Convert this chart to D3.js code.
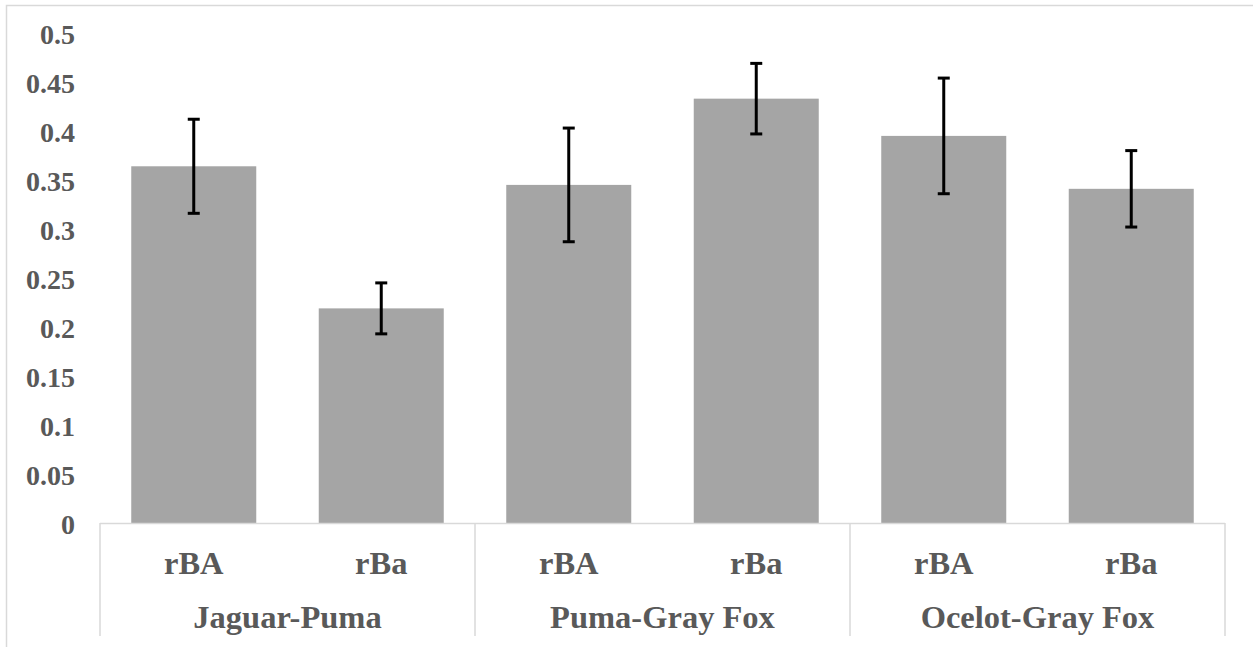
<!DOCTYPE html>
<html>
<head>
<meta charset="utf-8">
<script src="https://cdn.jsdelivr.net/npm/d3@7/dist/d3.min.js"></script>
<style>
  html, body { margin: 0; padding: 0; background: #ffffff; }
  svg { display: block; }
</style>
</head>
<body>
<svg id="chart" width="1253" height="647"></svg>
<script>
// Pairwise association values per species pair, with error half-widths
const groups = ["Jaguar-Puma", "Puma-Gray Fox", "Ocelot-Gray Fox"];
const measures = ["rBA", "rBa"];
const values = [0.364, 0.219, 0.345, 0.433, 0.395, 0.341];
const errors = [0.048, 0.026, 0.058, 0.036, 0.059, 0.039];
const yTicks = [0, 0.05, 0.1, 0.15, 0.2, 0.25, 0.3, 0.35, 0.4, 0.45, 0.5];

const FONT = "'Liberation Serif', 'Times New Roman', Times, serif";
const TEXT_COLOR = "#595959";

const rows = values.map((v, i) => ({
  group: groups[Math.floor(i / measures.length)],
  measure: measures[i % measures.length],
  value: v,
  err: errors[i],
  idx: i
}));

const svg = d3.select("#chart");
const W = 1253, H = 647;
const plot = { left: 100, right: 1225, top: 33, bottom: 523 };

// Outer chart frame (top and left edges visible)
svg.append("path")
  .attr("d", `M6.5,${H} V5.5 H${W}`)
  .attr("fill", "none")
  .attr("stroke", "#d9d9d9")
  .attr("stroke-width", 1.5);

const y = d3.scaleLinear().domain([0, 0.5]).range([plot.bottom, plot.top]);

const x = d3.scaleBand()
  .domain(rows.map(d => d.idx))
  .range([plot.left, plot.right])
  .paddingInner(1 / 3)
  .paddingOuter(1 / 6);

const xGroup = d3.scaleBand()
  .domain(groups)
  .range([plot.left, plot.right])
  .padding(0);

// Y axis: labels only, no line or ticks
const yAxis = d3.axisLeft(y)
  .tickValues(yTicks)
  .tickFormat(d => String(+d.toFixed(2)))
  .tickSize(0)
  .tickPadding(0);

const yG = svg.append("g")
  .attr("transform", "translate(75,0)")
  .call(yAxis);
yG.select(".domain").remove();
yG.attr("font-family", FONT)
  .attr("font-size", 28)
  .attr("font-weight", "bold");
yG.selectAll(".tick text")
  .attr("fill", TEXT_COLOR)
  .attr("font-family", FONT)
  .attr("font-size", 28)
  .attr("font-weight", "bold")
  .attr("dy", "0.38em");

// Bars
svg.append("g")
  .selectAll("rect")
  .data(rows)
  .join("rect")
  .attr("x", d => x(d.idx))
  .attr("width", x.bandwidth())
  .attr("y", d => y(d.value))
  .attr("height", d => y(0) - y(d.value))
  .attr("fill", "#a5a5a5");

// Error bars
const eb = svg.append("g")
  .attr("stroke", "#000000")
  .attr("stroke-width", 3)
  .selectAll("g")
  .data(rows)
  .join("g");

eb.append("line")
  .attr("x1", d => x(d.idx) + x.bandwidth() / 2)
  .attr("x2", d => x(d.idx) + x.bandwidth() / 2)
  .attr("y1", d => y(d.value + d.err))
  .attr("y2", d => y(d.value - d.err));

eb.selectAll("line.cap")
  .data(d => [d.value + d.err, d.value - d.err].map(v => ({ v, cx: x(d.idx) + x.bandwidth() / 2 })))
  .join("line")
  .attr("class", "cap")
  .attr("x1", c => c.cx - 6)
  .attr("x2", c => c.cx + 6)
  .attr("y1", c => y(c.v))
  .attr("y2", c => y(c.v));

// Category axis: baseline and group separators
const axisG = svg.append("g")
  .attr("stroke", "#d9d9d9")
  .attr("stroke-width", 1.5)
  .attr("fill", "none");

axisG.append("line")
  .attr("x1", plot.left).attr("x2", plot.right)
  .attr("y1", plot.bottom + 0.5).attr("y2", plot.bottom + 0.5);

const sepX = groups.map(g => xGroup(g)).concat([plot.right]);
axisG.selectAll("line.sep")
  .data(sepX)
  .join("line")
  .attr("class", "sep")
  .attr("x1", d => d).attr("x2", d => d)
  .attr("y1", plot.bottom).attr("y2", 636);

// Measure labels under each bar
svg.append("g")
  .attr("font-family", FONT)
  .attr("font-weight", "bold")
  .attr("font-size", 32.5)
  .attr("fill", TEXT_COLOR)
  .attr("text-anchor", "middle")
  .selectAll("text")
  .data(rows)
  .join("text")
  .attr("x", d => x(d.idx) + x.bandwidth() / 2)
  .attr("y", 563)
  .attr("dy", "0.34em")
  .text(d => d.measure);

// Species pair labels
svg.append("g")
  .attr("font-family", FONT)
  .attr("font-weight", "bold")
  .attr("font-size", 32.5)
  .attr("fill", TEXT_COLOR)
  .attr("text-anchor", "middle")
  .selectAll("text")
  .data(groups)
  .join("text")
  .attr("x", d => xGroup(d) + xGroup.bandwidth() / 2)
  .attr("y", 617)
  .attr("dy", "0.34em")
  .text(d => d);
</script>
</body>
</html>
